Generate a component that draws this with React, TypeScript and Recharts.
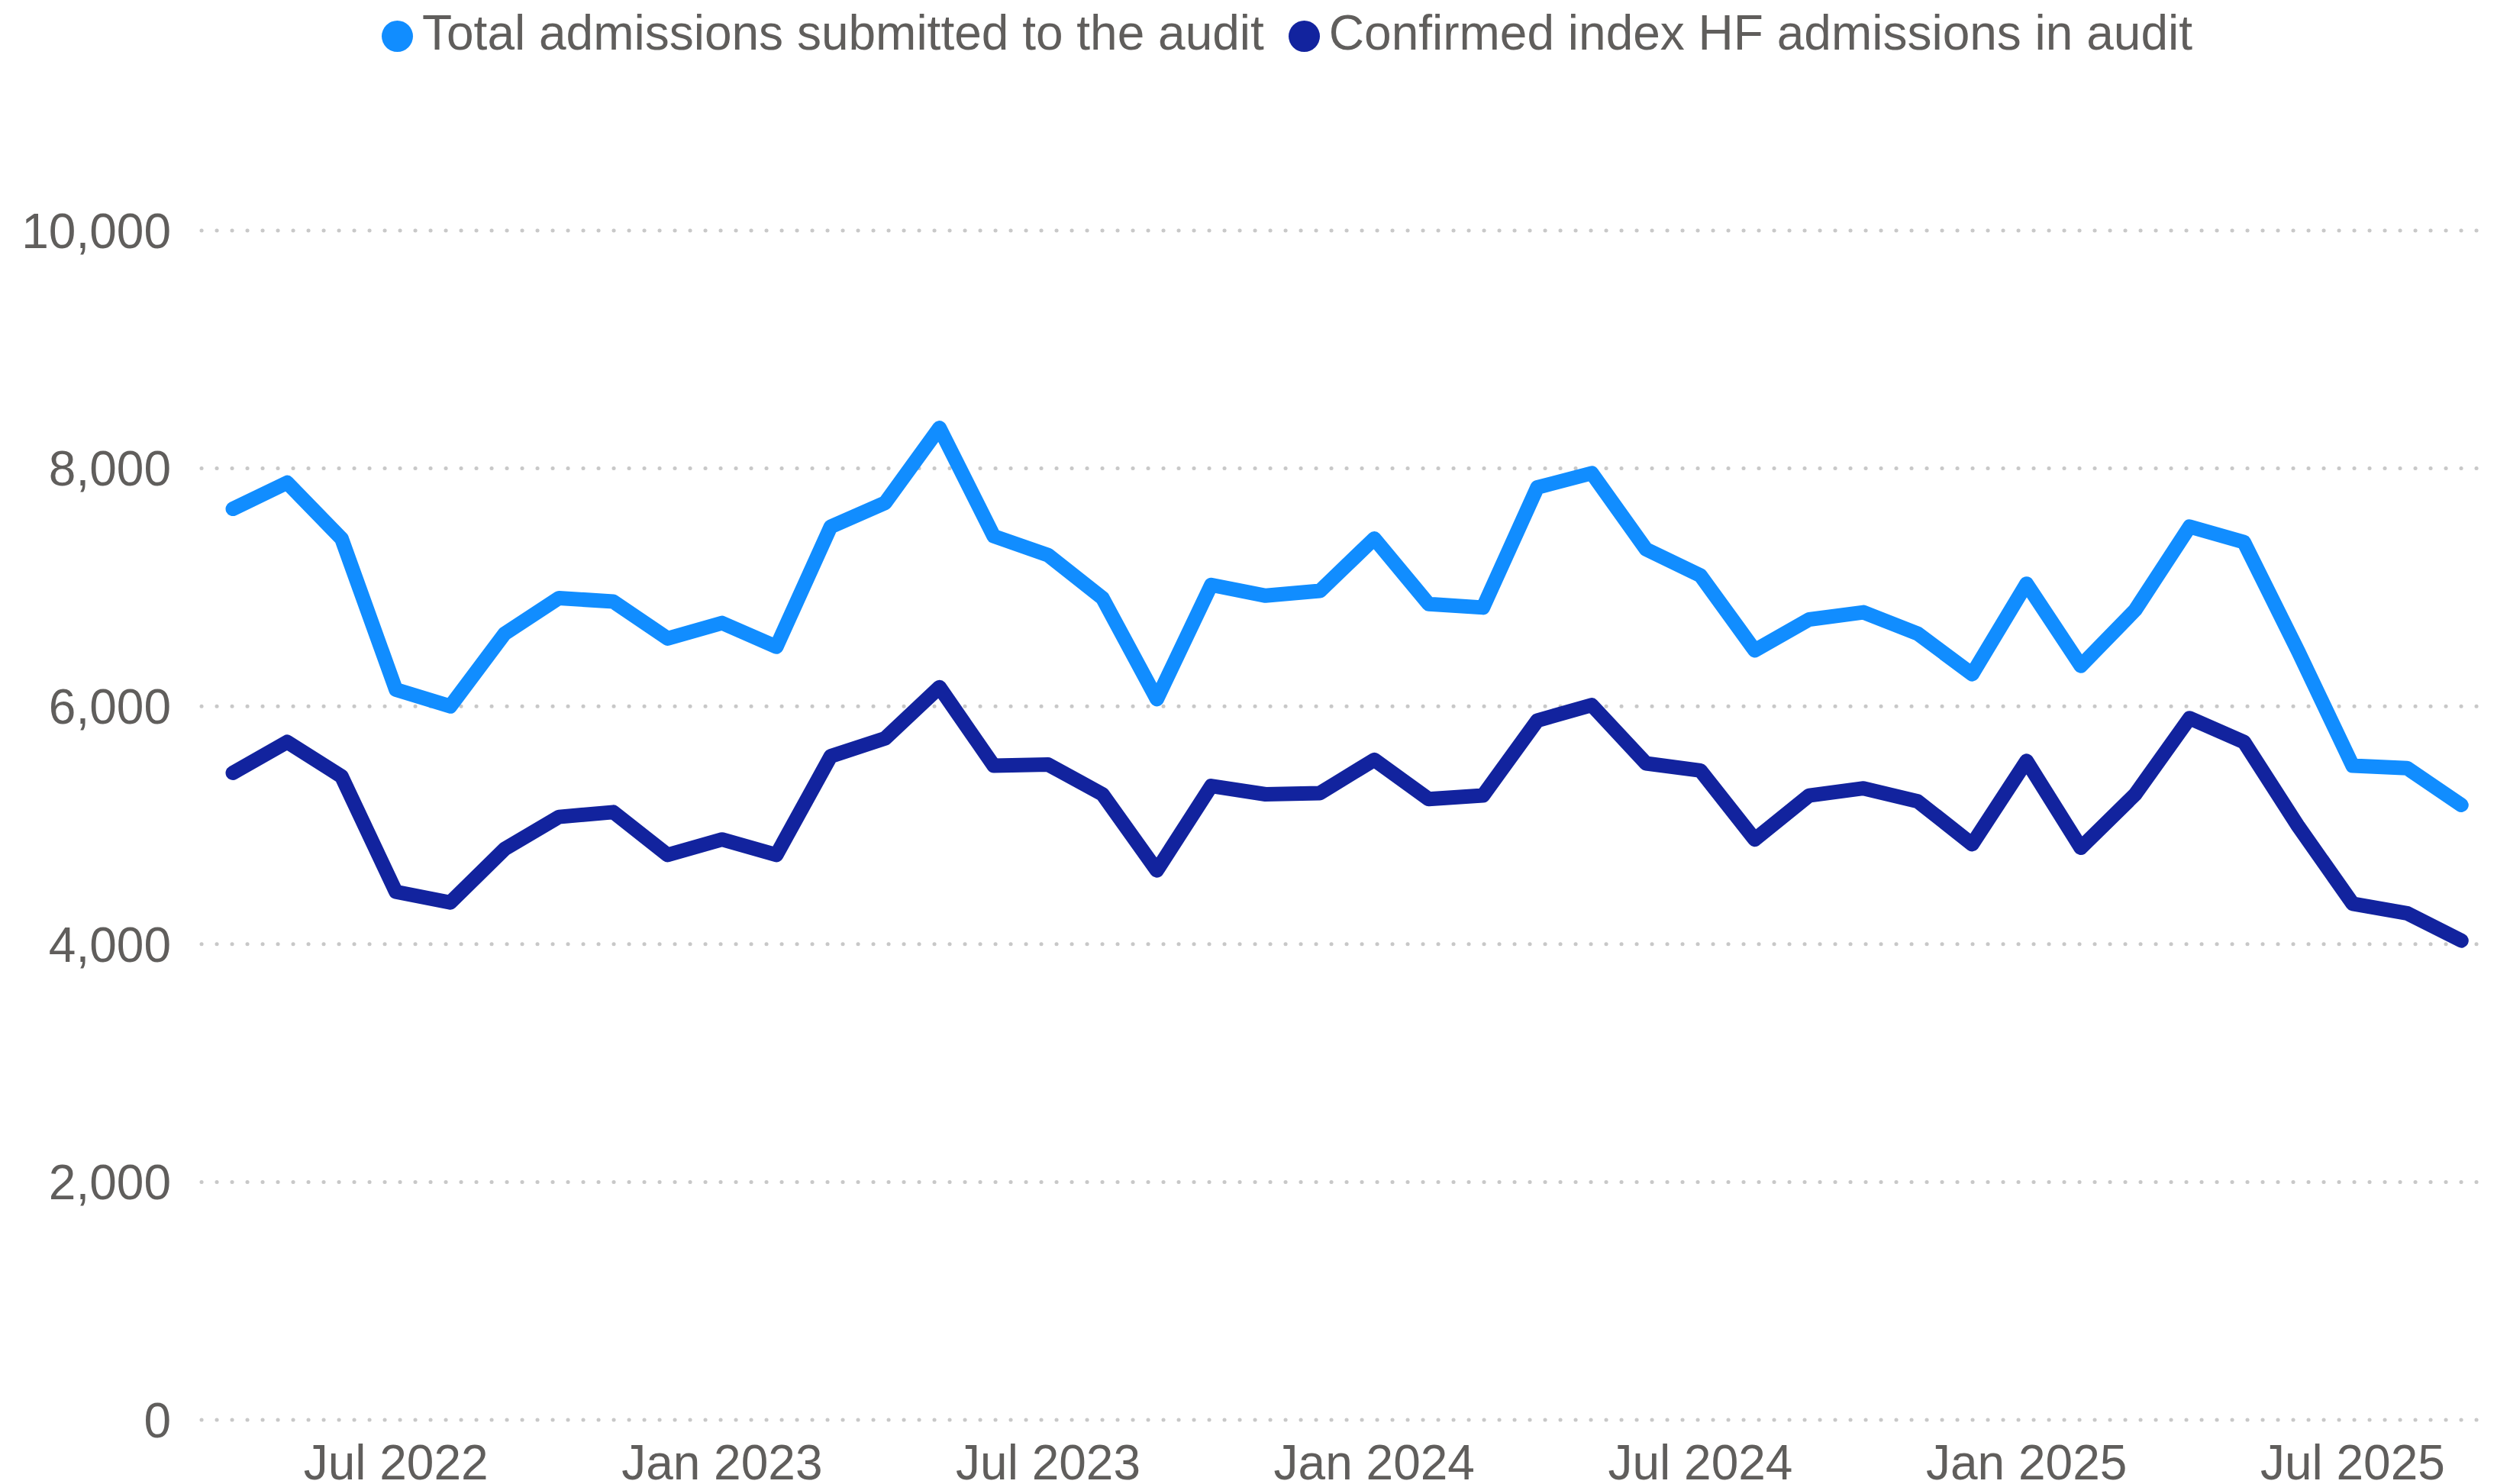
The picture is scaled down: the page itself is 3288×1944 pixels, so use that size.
import { CartesianGrid, Line, LineChart, XAxis, YAxis } from "recharts";

const months = [
  "Apr 2022", "May 2022", "Jun 2022", "Jul 2022", "Aug 2022", "Sep 2022", "Oct 2022", "Nov 2022", "Dec 2022",
  "Jan 2023", "Feb 2023", "Mar 2023", "Apr 2023", "May 2023", "Jun 2023", "Jul 2023", "Aug 2023", "Sep 2023",
  "Oct 2023", "Nov 2023", "Dec 2023", "Jan 2024", "Feb 2024", "Mar 2024", "Apr 2024", "May 2024", "Jun 2024",
  "Jul 2024", "Aug 2024", "Sep 2024", "Oct 2024", "Nov 2024", "Dec 2024", "Jan 2025", "Feb 2025", "Mar 2025",
  "Apr 2025", "May 2025", "Jun 2025", "Jul 2025", "Aug 2025", "Sep 2025",
];

const totalSubmitted = [
  7660, 7880, 7410, 6140, 6000, 6610, 6910, 6880, 6570, 6700, 6500, 7510, 7710, 8340, 7430, 7270, 6910, 6060,
  7020, 6930, 6970, 7410, 6860, 6830, 7840, 7960, 7320, 7100, 6470, 6730, 6790, 6610, 6270, 7030, 6340, 6810,
  7510, 7380, 6460, 5500, 5480, 5170,
];

const confirmedHF = [
  5440, 5700, 5410, 4440, 4350, 4800, 5070, 5110, 4750, 4880, 4750, 5580, 5730, 6160, 5500, 5510, 5260, 4620,
  5330, 5260, 5270, 5550, 5220, 5250, 5880, 6010, 5520, 5460, 4880, 5250, 5310, 5200, 4840, 5540, 4810, 5260,
  5900, 5700, 4990, 4340, 4260, 4030,
];

const xTickLabels = ["Jul 2022", "Jan 2023", "Jul 2023", "Jan 2024", "Jul 2024", "Jan 2025", "Jul 2025"];
const yTicks = [0, 2000, 4000, 6000, 8000, 10000];

const series = [
  { key: "total", name: "Total admissions submitted to the audit", color: "#118dff" },
  { key: "confirmed", name: "Confirmed index HF admissions in audit", color: "#12239e" },
];

const data = months.map((m, i) => ({ i, month: m, total: totalSubmitted[i], confirmed: confirmedHF[i] }));
const xTicks = xTickLabels.map((l) => months.indexOf(l));

const font = "'Liberation Sans', Arial, sans-serif";
const textColor = "#605e5c";

// legend sits above the plot, drawn as plain html so it doesn't push the plot down
function ChartLegend() {
  return (
    <div
      style={{
        position: "absolute",
        left: 500,
        top: 11,
        display: "flex",
        alignItems: "flex-start",
        fontFamily: font,
        fontSize: 64,
        lineHeight: "64px",
        color: textColor,
        whiteSpace: "nowrap",
      }}
    >
      {series.map((s, idx) => (
        <div key={s.key} style={{ display: "flex", alignItems: "flex-start", marginLeft: idx === 0 ? 0 : 32 }}>
          <span
            style={{
              width: 41,
              height: 41,
              borderRadius: "50%",
              background: s.color,
              display: "inline-block",
              marginRight: 12,
              marginTop: 16,
            }}
          />
          <span>{s.name}</span>
        </div>
      ))}
    </div>
  );
}

export default function App() {
  return (
    <div style={{ position: "fixed", left: 0, top: 0, width: 3288, height: 1944, background: "#fff" }}>
      <LineChart width={3288} height={1944} data={data} margin={{ top: 302, right: 42, bottom: 0, left: 0 }}>
        <CartesianGrid
          vertical={false}
          stroke="#c8c8c8"
          strokeWidth={5}
          strokeDasharray="0.1 19.9"
          strokeLinecap="round"
        />
        <XAxis
          dataKey="i"
          type="number"
          domain={[-0.576, 41.305]}
          ticks={xTicks}
          tickFormatter={(v) => months[v]}
          axisLine={false}
          tickLine={false}
          tickSize={0}
          tickMargin={33}
          height={84}
          interval={0}
          tick={{ fill: textColor, fontSize: 64, fontFamily: font }}
        />
        <YAxis
          domain={[0, 10000]}
          ticks={yTicks}
          tickFormatter={(v) => v.toLocaleString("en-US")}
          axisLine={false}
          tickLine={false}
          tickSize={0}
          tickMargin={40}
          width={264}
          interval={0}
          tick={{ fill: textColor, fontSize: 64, fontFamily: font }}
        />
        {series.map((s) => (
          <Line
            key={s.key}
            dataKey={s.key}
            name={s.name}
            stroke={s.color}
            strokeWidth={19}
            strokeLinejoin="round"
            strokeLinecap="round"
            dot={false}
            activeDot={false}
            isAnimationActive={false}
          />
        ))}
      </LineChart>
      <ChartLegend />
    </div>
  );
}
